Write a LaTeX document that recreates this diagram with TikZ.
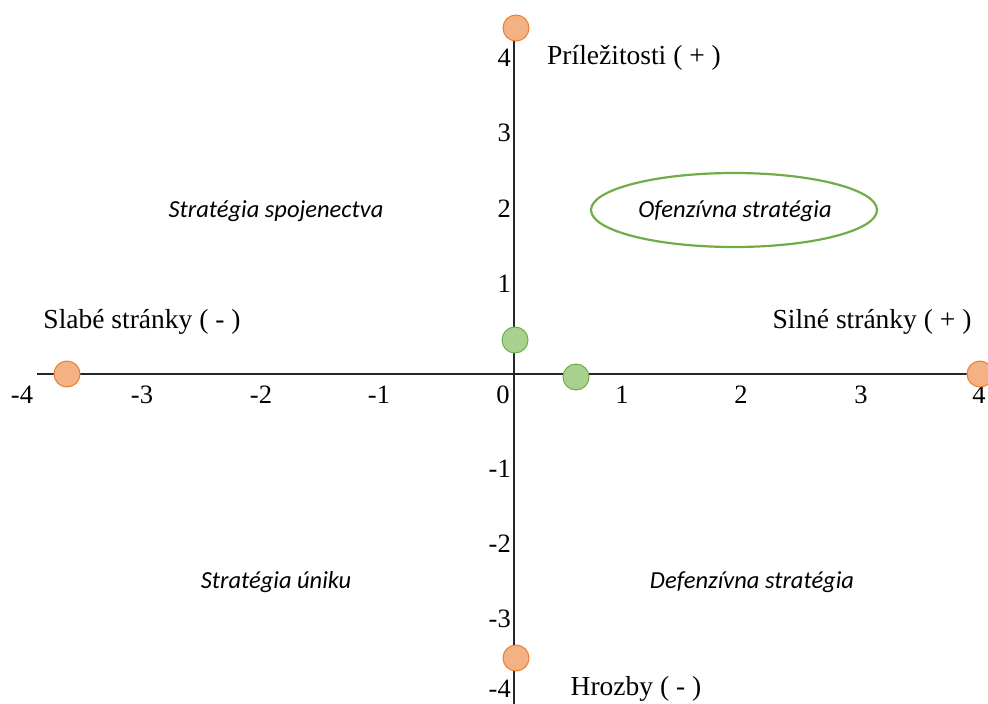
\documentclass[tikz,border=0pt]{standalone}
\usetikzlibrary{shapes.geometric}
\usepackage{fontspec}
\setmainfont{Liberation Serif}
\newfontfamily\calfont{Carlito}
\begin{document}
\begin{tikzpicture}[x=1pt,y=-1pt,
  lbl/.style={font=\fontsize{27.5}{31}\selectfont, inner sep=0pt},
  tick/.style={font=\fontsize{26.5}{30}\selectfont, inner sep=0pt},
  strat/.style={font=\calfont\itshape\fontsize{24.5}{28}\selectfont, inner sep=0pt},
  orangedot/.style={circle, minimum size=26pt, inner sep=0pt, draw={rgb,255:red,237;green,125;blue,49}, line width=1pt, fill={rgb,255:red,244;green,177;blue,131}},
  greendot/.style={circle, minimum size=26pt, inner sep=0pt, draw={rgb,255:red,112;green,173;blue,71}, line width=1pt, fill={rgb,255:red,169;green,209;blue,142}},
  axis/.style={line width=1.6pt, draw=black!85}]
\useasboundingbox (0,0) rectangle (988,704);
\coordinate (vtop) at (514,40);
\coordinate (vbot) at (514,704);
\coordinate (hleft) at (37,374);
\coordinate (hright) at (988,374);
\draw[axis] (vtop) -- (vbot);
\draw[axis] (hleft) -- (hright);
% x tick labels
\foreach \v/\x in {-4/22,-3/142,-2/261,-1/379,0/503,1/622,2/741,3/861,4/979}
  \node[tick] (xt\v) at (\x,395) {\v};
% y tick labels
\foreach \v/\y in {4/58,3/133,2/209,1/284,-1/469,-2/544,-3/619,-4/689}
  \node[tick, anchor=east] (yt\v) at (511,\y) {\v};
% axis labels
\node[lbl] (opp) at (634,58) {Príležitosti ( + )};
\node[lbl] (weak) at (142,322) {Slabé stránky ( - )};
\node[lbl] (strong) at (872,322) {Silné stránky ( + )};
\node[lbl] (threat) at (636,689) {Hrozby ( - )};
% strategies
\node[strat] (s1) at (276,211) {Stratégia spojenectva};
\node[strat] (s2) at (735,211) {Ofenzívna stratégia};
\node[strat] (s3) at (276,582) {Stratégia úniku};
\node[strat] (s4) at (752,582) {Defenzívna stratégia};
\node[ellipse, draw={rgb,255:red,112;green,173;blue,71}, line width=2.2pt, minimum width=286pt, minimum height=74pt, inner sep=0pt] (ell) at (734,210) {};
% dots
\node[orangedot] (ot) at (516,28) {};
\node[orangedot] (ol) at (67,374) {};
\node[orangedot] (or) at (980,374) {};
\node[orangedot] (ob) at (516,658) {};
\node[greendot] (g1) at (515,340) {};
\node[greendot] (g2) at (576,377) {};
\end{tikzpicture}
\end{document}
